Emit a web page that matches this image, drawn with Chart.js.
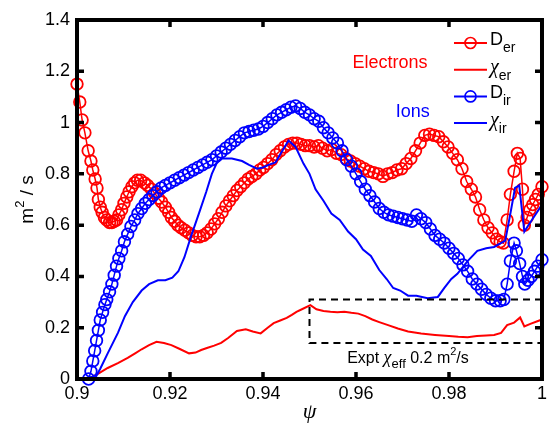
<!DOCTYPE html>
<html lang="en">
<head>
<meta charset="UTF-8">
<title>Diffusivity profiles</title>
<style>
    html, body { margin: 0; padding: 0; background: #fff; }
    #wrap { width: 551px; height: 425px; }
</style>
</head>
<body>
<div id="wrap"><canvas id="chart" width="551" height="425"></canvas></div>
<script src="https://cdn.jsdelivr.net/npm/chart.js"></script>
<script>
// axis ticks
const xTicks = [0.9, 0.92, 0.94, 0.96, 0.98, 1];
const yTicks = [0, 0.2, 0.4, 0.6, 0.8, 1, 1.2, 1.4];

// D_er (red circles)
const psiDer = [0.9000,0.9006,0.9011,0.9017,0.9024,0.9030,0.9034,0.9039,0.9043,0.9046,0.9050,0.9054,0.9059,0.9064,0.9070,0.9075,0.9080,0.9085,0.9090,0.9096,
    0.9101,0.9107,0.9112,0.9118,0.9124,0.9130,0.9137,0.9145,0.9152,0.9160,0.9167,0.9175,0.9182,0.9190,0.9197,0.9203,0.9210,0.9217,0.9224,0.9232,
    0.9240,0.9248,0.9256,0.9264,0.9272,0.9280,0.9288,0.9296,0.9304,0.9312,0.9320,0.9328,0.9336,0.9344,0.9352,0.9360,0.9368,0.9376,0.9385,0.9393,
    0.9401,0.9410,0.9419,0.9428,0.9437,0.9446,0.9455,0.9464,0.9473,0.9482,0.9491,0.9500,0.9510,0.9519,0.9528,0.9538,0.9548,0.9558,0.9568,0.9578,
    0.9588,0.9598,0.9608,0.9618,0.9628,0.9638,0.9648,0.9658,0.9668,0.9678,0.9688,0.9698,0.9708,0.9718,0.9728,0.9738,0.9748,0.9758,0.9768,0.9778,
    0.9788,0.9798,0.9808,0.9818,0.9828,0.9838,0.9848,0.9857,0.9866,0.9875,0.9884,0.9893,0.9902,0.9910,0.9917,0.9925,0.9932,0.9940,0.9947,0.9953,
    0.9958,0.9962,0.9968,0.9974,0.9980,0.9986,0.9992,1.0000];
const dEr = [1.15,1.08,1.01,0.96,0.89,0.85,0.815,0.78,0.745,0.70,0.67,0.65,0.63,0.62,0.61,0.61,0.615,0.62,0.64,0.66,
    0.685,0.71,0.73,0.75,0.765,0.775,0.775,0.765,0.755,0.74,0.725,0.705,0.69,0.67,0.65,0.63,0.615,0.60,0.59,0.58,
    0.57,0.56,0.555,0.555,0.56,0.57,0.585,0.605,0.625,0.65,0.675,0.695,0.715,0.735,0.75,0.765,0.78,0.79,0.80,0.815,
    0.825,0.84,0.855,0.875,0.89,0.905,0.915,0.92,0.92,0.915,0.91,0.91,0.905,0.91,0.90,0.89,0.895,0.88,0.875,0.86,
    0.85,0.84,0.83,0.82,0.81,0.805,0.80,0.79,0.80,0.805,0.815,0.82,0.84,0.86,0.89,0.92,0.95,0.955,0.95,0.945,
    0.925,0.905,0.88,0.855,0.82,0.77,0.74,0.71,0.66,0.62,0.59,0.57,0.545,0.535,0.53,0.62,0.72,0.81,0.88,0.86,
    0.74,0.60,0.63,0.66,0.68,0.70,0.72,0.75];

// chi_er (red line)
const psiChiEr = [0.9000,0.9024,0.9045,0.9066,0.9088,0.9109,0.9125,0.9139,0.9155,0.9171,0.9187,0.9203,0.9220,0.9241,0.9255,0.9267,0.9281,0.9295,0.9310,0.9325,
    0.9344,0.9363,0.9378,0.9395,0.9410,0.9423,0.9437,0.9451,0.9462,0.9472,0.9487,0.9502,0.9515,0.9530,0.9545,0.9560,0.9575,0.9590,0.9605,0.9620,
    0.9635,0.9650,0.9669,0.9690,0.9712,0.9740,0.9770,0.9800,0.9820,0.9840,0.9860,0.9880,0.9897,0.9912,0.9925,0.9940,0.9953,0.9962,0.9975,0.9990,1.0000];
const chiEr = [0,0,0.02,0.043,0.062,0.082,0.10,0.116,0.132,0.145,0.14,0.132,0.118,0.10,0.103,0.113,0.122,0.13,0.141,0.16,
    0.187,0.194,0.185,0.178,0.20,0.218,0.228,0.238,0.25,0.262,0.275,0.288,0.272,0.265,0.262,0.26,0.262,0.258,0.255,0.245,
    0.232,0.222,0.21,0.197,0.185,0.177,0.172,0.168,0.165,0.163,0.168,0.170,0.172,0.18,0.21,0.22,0.24,0.205,0.215,0.225,0.232];

// D_ir (blue circles)
const psiDir = [0.9025,0.9030,0.9034,0.9038,0.9042,0.9046,0.9050,0.9055,0.9060,0.9064,0.9070,0.9075,0.9080,0.9085,0.9090,0.9096,0.9102,0.9109,0.9116,0.9124,
    0.9131,0.9139,0.9147,0.9155,0.9163,0.9172,0.9181,0.9190,0.9200,0.9210,0.9220,0.9230,0.9240,0.9250,0.9260,0.9270,0.9280,0.9290,0.9300,0.9310,
    0.9320,0.9330,0.9340,0.9350,0.9360,0.9370,0.9380,0.9390,0.9400,0.9410,0.9420,0.9430,0.9440,0.9450,0.9460,0.9470,0.9480,0.9490,0.9500,0.9510,
    0.9520,0.9530,0.9540,0.9550,0.9560,0.9570,0.9580,0.9590,0.9600,0.9610,0.9620,0.9630,0.9640,0.9650,0.9660,0.9670,0.9680,0.9690,0.9700,0.9710,
    0.9720,0.9730,0.9740,0.9750,0.9760,0.9770,0.9780,0.9790,0.9800,0.9810,0.9820,0.9830,0.9840,0.9850,0.9860,0.9870,0.9880,0.9890,0.9900,0.9910,
    0.9918,0.9925,0.9932,0.9940,0.9945,0.9952,0.9958,0.9963,0.9970,0.9977,0.9984,0.9991,1.0000];
const dIr = [0.00,0.03,0.07,0.11,0.15,0.19,0.23,0.26,0.29,0.31,0.34,0.37,0.405,0.44,0.47,0.50,0.535,0.565,0.595,0.62,
    0.645,0.665,0.685,0.70,0.715,0.73,0.745,0.755,0.765,0.775,0.785,0.795,0.805,0.815,0.825,0.835,0.845,0.855,0.87,0.885,
    0.90,0.915,0.93,0.945,0.96,0.965,0.97,0.975,0.985,1.00,1.015,1.03,1.04,1.05,1.06,1.065,1.055,1.04,1.03,1.015,
    1.005,0.98,0.96,0.94,0.92,0.89,0.855,0.83,0.80,0.77,0.74,0.715,0.69,0.665,0.65,0.64,0.635,0.63,0.625,0.62,
    0.615,0.64,0.625,0.61,0.585,0.56,0.545,0.53,0.51,0.49,0.47,0.445,0.42,0.39,0.37,0.35,0.33,0.315,0.305,0.305,
    0.31,0.37,0.46,0.53,0.50,0.45,0.40,0.37,0.385,0.40,0.42,0.44,0.465];

// chi_ir (blue line)
const psiChiIr = [0.9000,0.9038,0.9050,0.9066,0.9088,0.9103,0.9120,0.9139,0.9155,0.9174,0.9190,0.9205,0.9218,0.9231,0.9245,0.9263,0.9278,0.9290,0.9300,0.9310,
    0.9333,0.9355,0.9370,0.9387,0.9400,0.9412,0.9427,0.9440,0.9455,0.9470,0.9487,0.9500,0.9513,0.9530,0.9547,0.9565,0.9583,0.9600,0.9615,0.9632,
    0.9650,0.9666,0.9680,0.9695,0.9712,0.9730,0.9754,0.9776,0.9790,0.9805,0.9818,0.9840,0.9861,0.9880,0.9897,0.9921,0.9932,0.9942,0.9951,0.9962,0.9980,1.0000];
const chiIr = [0,0,0.04,0.10,0.18,0.245,0.30,0.345,0.37,0.385,0.385,0.395,0.42,0.475,0.555,0.65,0.73,0.80,0.84,0.86,
    0.86,0.85,0.835,0.82,0.825,0.835,0.845,0.885,0.93,0.905,0.84,0.80,0.74,0.695,0.645,0.62,0.575,0.545,0.505,0.48,
    0.425,0.39,0.355,0.345,0.325,0.325,0.315,0.32,0.355,0.39,0.41,0.46,0.50,0.51,0.515,0.54,0.645,0.745,0.755,0.575,0.625,0.68];

// experimental band (dashed box)
const exptPsi = [1.0, 0.95, 0.95, 1.0];
const exptVal = [0.31, 0.31, 0.14, 0.14];

const RED = '#ff0000';
const BLUE = '#0000ff';
const SANS = '"Liberation Sans", Arial, sans-serif';
const SERIF = '"Liberation Serif", "Times New Roman", serif';

function pts(xs, ys) {
    return xs.map((x, i) => ({ x: x, y: ys[i] }));
}

function fmt(v) {
    return String(+v.toFixed(2));
}

// draw a run of text pieces: [text, font, dy]
function richWidth(ctx, parts) {
    let w = 0;
    parts.forEach(p => { ctx.font = p[1]; w += ctx.measureText(p[0]).width; });
    return w;
}
function drawRich(ctx, parts, x, y, align) {
    let cx = x;
    if (align === 'center') cx = x - richWidth(ctx, parts) / 2;
    ctx.textAlign = 'left';
    ctx.textBaseline = 'alphabetic';
    parts.forEach(p => {
        ctx.font = p[1];
        ctx.fillText(p[0], cx, y + (p[2] || 0));
        cx += ctx.measureText(p[0]).width;
    });
}

const framePlugin = {
    id: 'frame',
    afterDatasetsDraw(chart) {
        const ctx = chart.ctx;
        const a = chart.chartArea;
        const xs = chart.scales.x, ys = chart.scales.y;
        ctx.save();
        ctx.strokeStyle = '#000';
        ctx.lineWidth = 3.5;
        ctx.lineCap = 'butt';
        // inward ticks on all four sides
        xTicks.forEach(t => {
            const px = xs.getPixelForValue(t);
            ctx.beginPath();
            ctx.moveTo(px, a.bottom); ctx.lineTo(px, a.bottom - 7);
            ctx.moveTo(px, a.top); ctx.lineTo(px, a.top + 7);
            ctx.stroke();
        });
        yTicks.forEach(t => {
            const py = ys.getPixelForValue(t);
            ctx.beginPath();
            ctx.moveTo(a.left, py); ctx.lineTo(a.left + 7, py);
            ctx.moveTo(a.right, py); ctx.lineTo(a.right - 7, py);
            ctx.stroke();
        });
        ctx.lineWidth = 4;
        ctx.strokeRect(a.left, a.top, a.right - a.left, a.bottom - a.top);

        // annotations
        ctx.fillStyle = RED;
        drawRich(ctx, [['Electrons', '18px ' + SANS]], xs.getPixelForValue(0.9673), ys.getPixelForValue(1.213), 'center');
        ctx.fillStyle = BLUE;
        drawRich(ctx, [['Ions', '18px ' + SANS]], xs.getPixelForValue(0.9722), ys.getPixelForValue(1.022), 'center');
        ctx.fillStyle = '#000';
        drawRich(ctx, [
            ['Expt ', '16px ' + SANS],
            ['\u03c7', 'italic 18px ' + SERIF],
            ['eff', '13px ' + SANS, 5],
            [' 0.2 m', '16px ' + SANS],
            ['2', '11px ' + SANS, -8],
            ['/s', '16px ' + SANS]
        ], xs.getPixelForValue(0.9581), ys.getPixelForValue(0.062), 'left');

        // legend
        const rows = [
            { color: RED, marker: true, name: [['D', '18px ' + SANS, 2], ['er', '14px ' + SANS, 9]] },
            { color: RED, marker: false, name: [['\u03c7', 'italic 20px ' + SERIF, 3], ['er', '14px ' + SANS, 10]] },
            { color: BLUE, marker: true, name: [['D', '18px ' + SANS, 2], ['ir', '14px ' + SANS, 9]] },
            { color: BLUE, marker: false, name: [['\u03c7', 'italic 20px ' + SERIF, 3], ['ir', '14px ' + SANS, 10]] }
        ];
        const lx0 = a.right - 88, lx1 = a.right - 55;
        rows.forEach((r, i) => {
            const y = a.top + 23 + i * 26.7;
            ctx.strokeStyle = r.color;
            ctx.lineWidth = 2;
            ctx.beginPath(); ctx.moveTo(lx0, y); ctx.lineTo(lx1, y); ctx.stroke();
            if (r.marker) {
                ctx.lineWidth = 1.7;
                ctx.beginPath(); ctx.arc((lx0 + lx1) / 2, y, 5.5, 0, Math.PI * 2); ctx.stroke();
            }
            ctx.fillStyle = '#000';
            drawRich(ctx, r.name, lx1 + 3, y, 'left');
        });

        // axis titles
        ctx.fillStyle = '#000';
        drawRich(ctx, [['\u03c8', 'italic 22px ' + SERIF]], (a.left + a.right) / 2, 418, 'center');
        ctx.save();
        ctx.translate(33, (a.top + a.bottom) / 2);
        ctx.rotate(-Math.PI / 2);
        drawRich(ctx, [['m', '19px ' + SANS], ['2', '13px ' + SANS, -9], [' / s', '19px ' + SANS]], 0, 0, 'center');
        ctx.restore();
        ctx.restore();
    }
};

new Chart(document.getElementById('chart'), {
    type: 'scatter',
    data: {
        datasets: [
            {
                label: 'D_er', data: pts(psiDer, dEr), showLine: true,
                borderColor: RED, borderWidth: 1.5, backgroundColor: 'rgba(0,0,0,0)',
                pointRadius: 5.8, pointBorderWidth: 1.8, pointBorderColor: RED, pointBackgroundColor: 'rgba(0,0,0,0)',
                order: 4, clip: false
            },
            {
                label: 'chi_er', data: pts(psiChiEr, chiEr), showLine: true,
                borderColor: RED, borderWidth: 2, pointRadius: 0, order: 3, clip: false
            },
            {
                label: 'D_ir', data: pts(psiDir, dIr), showLine: true,
                borderColor: BLUE, borderWidth: 1.5, backgroundColor: 'rgba(0,0,0,0)',
                pointRadius: 5.8, pointBorderWidth: 1.8, pointBorderColor: BLUE, pointBackgroundColor: 'rgba(0,0,0,0)',
                order: 2, clip: false
            },
            {
                label: 'chi_ir', data: pts(psiChiIr, chiIr), showLine: true,
                borderColor: BLUE, borderWidth: 2, pointRadius: 0, order: 1, clip: false
            },
            {
                label: 'expt', data: pts(exptPsi, exptVal), showLine: true,
                borderColor: '#000', borderWidth: 2, borderDash: [7, 5], pointRadius: 0, order: 0, clip: false
            }
        ]
    },
    options: {
        responsive: false,
        animation: false,
        events: [],
        layout: { padding: { top: 20, right: 6, left: 0, bottom: 0 } },
        plugins: { legend: { display: false }, tooltip: { enabled: false } },
        scales: {
            x: {
                type: 'linear', min: 0.9, max: 1,
                afterFit(s) { s.height = 46; },
                afterBuildTicks(s) { s.ticks = xTicks.map(v => ({ value: v })); },
                grid: { display: false, drawTicks: false },
                border: { display: false },
                ticks: { callback: fmt, color: '#000', font: { family: SANS, size: 18 }, padding: 4, maxRotation: 0 }
            },
            y: {
                type: 'linear', min: 0, max: 1.4,
                afterFit(s) { s.width = 77; },
                afterBuildTicks(s) { s.ticks = yTicks.map(v => ({ value: v })); },
                grid: { display: false, drawTicks: false },
                border: { display: false },
                ticks: { callback: fmt, color: '#000', font: { family: SANS, size: 18 }, padding: 7 }
            }
        }
    },
    plugins: [framePlugin]
});
</script>
</body>
</html>
